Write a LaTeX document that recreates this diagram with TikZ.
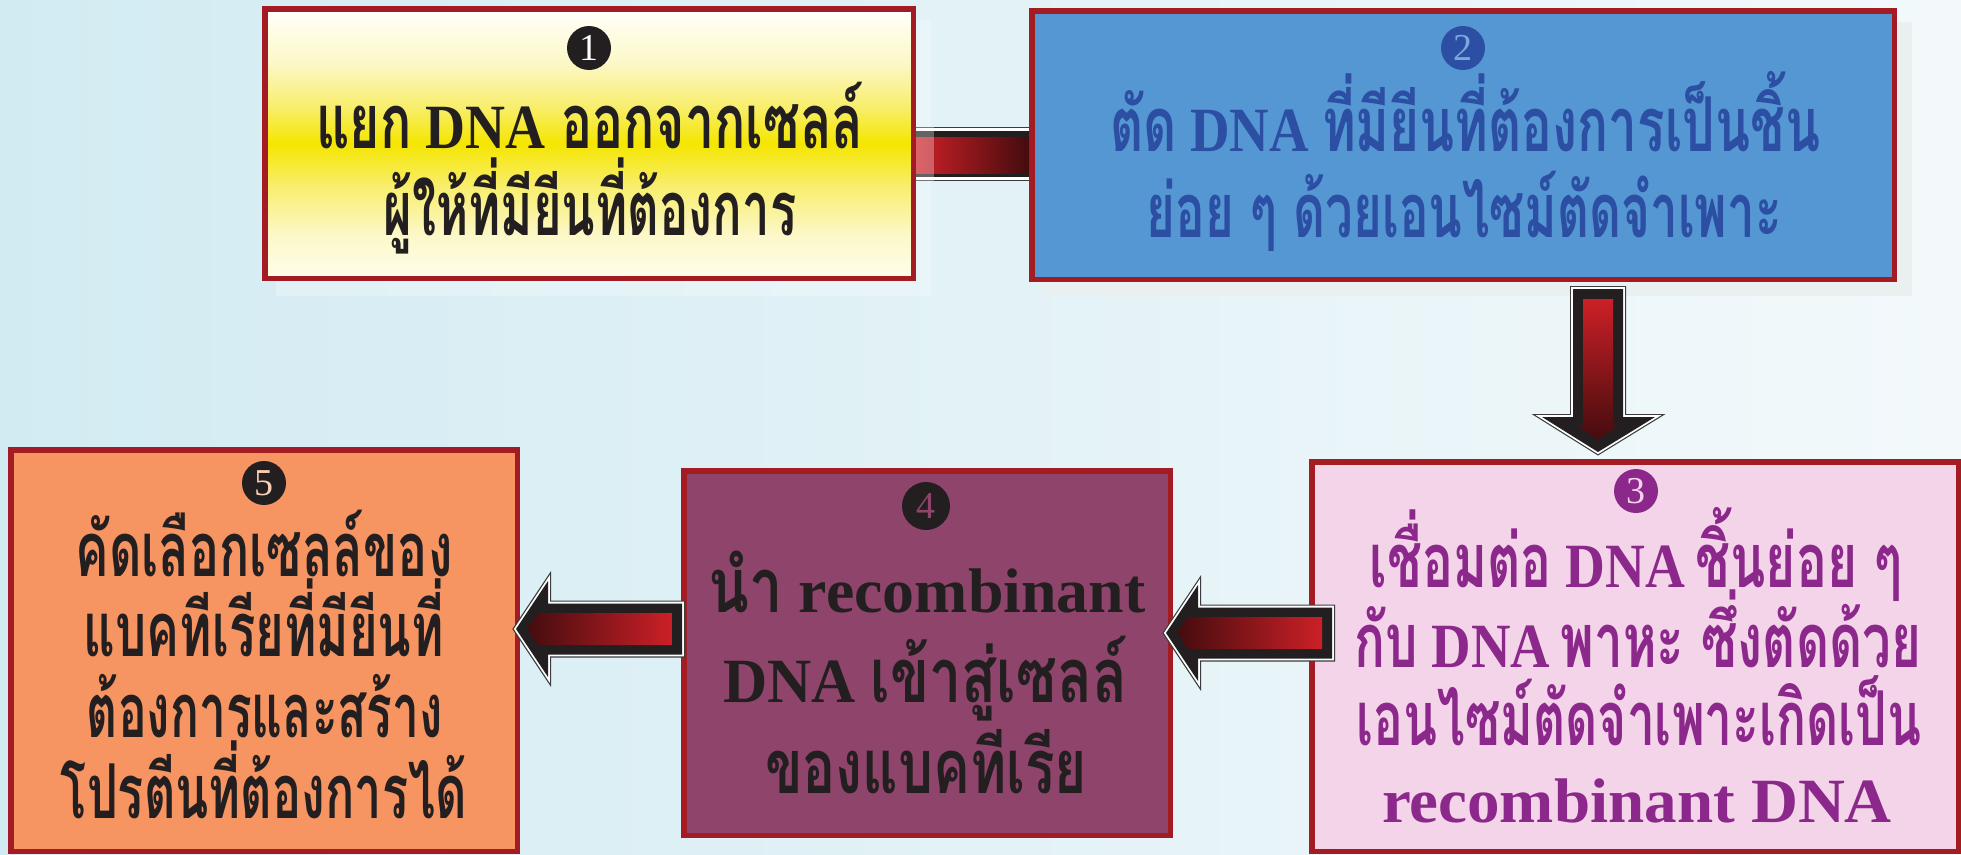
\documentclass[tikz,border=0pt]{standalone}
\usepackage{fontspec}
\setmainfont{Liberation Serif}
\newfontfamily\thai[Script=Thai,Scale=1.2,FakeStretch=0.78]{Loma}
\usetikzlibrary{calc}
\definecolor{bgL}{RGB}{210,235,242}
\definecolor{bgR}{RGB}{243,249,251}
\definecolor{shadowgray}{RGB}{234,239,240}
\definecolor{boxred}{RGB}{163,28,36}
\definecolor{ink}{RGB}{35,31,32}
\definecolor{yelc}{RGB}{245,230,0}
\definecolor{yel1}{RGB}{248,238,110}
\definecolor{yel2}{RGB}{252,248,200}
\definecolor{yel3}{RGB}{255,253,235}
\definecolor{b2fill}{RGB}{84,151,211}
\definecolor{b2txt}{RGB}{44,79,163}
\definecolor{c2num}{RGB}{120,170,225}
\definecolor{b3fill}{RGB}{243,212,232}
\definecolor{b3txt}{RGB}{140,40,140}
\definecolor{b4fill}{RGB}{143,69,107}
\definecolor{b5fill}{RGB}{246,148,98}
\definecolor{c5num}{RGB}{250,205,180}
\definecolor{arrred}{RGB}{204,32,39}
\definecolor{arrdark}{RGB}{68,12,14}
\definecolor{rimdark}{RGB}{60,60,62}
\pgfdeclareverticalshading{yelshade}{100bp}{color(0bp)=(white); color(25bp)=(yel3); color(33bp)=(yel2); color(42bp)=(yel1); color(50bp)=(yelc); color(57bp)=(yel1); color(65bp)=(yel2); color(72bp)=(yel3); color(75bp)=(white); color(100bp)=(white)}
\newcommand\fitln[2]{\resizebox{#1pt}{\height}{#2}}
\newcommand\leftfat[1]{%
  \begin{scope}[shift={(#1)}]
    \draw[line width=6, draw=rimdark, line join=miter] (0,0) -- (32,-48) -- (32,-25.5) -- (166,-25.5) -- (166,25.5) -- (32,25.5) -- (32,48) -- cycle;
    \draw[line width=3.6, draw=white, line join=miter] (0,0) -- (32,-48) -- (32,-25.5) -- (166,-25.5) -- (166,25.5) -- (32,25.5) -- (32,48) -- cycle;
    \fill[ink] (0,0) -- (32,-48) -- (32,-25.5) -- (166,-25.5) -- (166,25.5) -- (32,25.5) -- (32,48) -- cycle;
    \shade[left color=arrdark, right color=arrred] (11,0) -- (22,-16) -- (156,-16) -- (156,16) -- (22,16) -- cycle;
  \end{scope}}
\begin{document}
\begin{tikzpicture}[x=1pt,y=-1pt,
  box/.style={draw=boxred, line width=5.5, inner sep=0, shape=rectangle},
  num/.style={circle, minimum size=44, inner sep=0, font=\fontsize{38}{38}\selectfont},
  txtline/.style={anchor=base, inner sep=0, font=\fontsize{63}{63}\selectfont\bfseries}]
\useasboundingbox (0,0) rectangle (1961,854);
\shade[left color=bgL, right color=bgR] (0,0) rectangle (1961,854);
\fill[shadowgray] (1043,22) rectangle (1912,296);
\fill[white, opacity=.25] (276,20) rectangle (931,296);

% boxes
\node[box, shade, shading=yelshade, minimum width=648.5, minimum height=269.5] (b1) at (589,143.5) {};
\node[box, fill=b2fill, minimum width=862.5, minimum height=268.5] (b2) at (1463,145) {};
\node[box, fill=b3fill, minimum width=646.5, minimum height=389.5] (b3) at (1635,656.5) {};
\node[box, fill=b4fill, minimum width=486.5, minimum height=364.5] (b4) at (927,653) {};
\node[box, fill=b5fill, minimum width=506.5, minimum height=401.5] (b5) at (264,650.5) {};

% arrow 1 -> 2
\coordinate (a12s) at ($(b1.east)+(0,10.5)$);
\coordinate (a12e) at (b2.west |- a12s);
\fill[ink] ($(a12s)+(0,-27)$) rectangle ($(a12e)+(0,27)$);
\draw[rimdark, line width=1] ($(a12s)+(0,-26.5)$) -- ($(a12e)+(0,-26.5)$);
\draw[rimdark, line width=1] ($(a12s)+(0,26.5)$) -- ($(a12e)+(0,26.5)$);
\draw[white, line width=2.5] ($(a12s)+(0,-24.5)$) -- ($(a12e)+(0,-24.5)$);
\draw[white, line width=2.5] ($(a12s)+(0,24.5)$) -- ($(a12e)+(0,24.5)$);
\shade[left color=arrred, right color=arrdark] ($(a12s)+(0,-17)$) rectangle ($(a12e)+(0,19)$);
\fill[white, opacity=.3] ($(a12s)+(0,-27)$) rectangle ($(a12s)+(18,27)$);

% arrow 2 -> 3
\coordinate (a23) at ($(b3.north)+(-37,-7)$);
\begin{scope}[shift={(a23)}]
  \draw[line width=6, draw=rimdark, line join=miter] (0,0) -- (-56,-35) -- (-25,-35) -- (-25,-163) -- (25,-163) -- (25,-35) -- (57,-35) -- cycle;
  \draw[line width=3.6, draw=white, line join=miter] (0,0) -- (-56,-35) -- (-25,-35) -- (-25,-163) -- (25,-163) -- (25,-35) -- (57,-35) -- cycle;
  \fill[ink] (0,0) -- (-56,-35) -- (-25,-35) -- (-25,-163) -- (25,-163) -- (25,-35) -- (57,-35) -- cycle;
  \shade[top color=arrred, bottom color=arrdark] (0,-12) -- (-21,-27) -- (-15,-27) -- (-15,-153) -- (15,-153) -- (15,-27) -- (21,-27) -- cycle;
\end{scope}

% arrows 3 -> 4 and 4 -> 5
\coordinate (a34) at ($(b4.east)+(-7,-20)$);
\leftfat{a34}
\coordinate (a45) at ($(b5.east)+(-4,-21.5)$);
\leftfat{a45}

% number badges
\node[num, fill=ink, text=white] (n1) at (589,48) {1};
\node[num, fill=b2txt, text=c2num] (n2) at (1463,48) {2};
\node[num, fill=b3txt, text=b3fill] (n3) at (1636,491) {3};
\node[num, fill=ink, text=b4fill, minimum size=48] (n4) at (926,506) {4};
\node[num, fill=ink, text=c5num] (n5) at (264,483) {5};

% texts
\node[txtline, text=ink] (t11) at (590,148) {\fitln{547}{{\thai แยก} DNA\hspace{18pt}{\thai ออกจากเซลล์}}};
\node[txtline, text=ink] (t12) at (590,235) {\fitln{413}{\thai ผู้ให้ที่มียีนที่ต้องการ}};

\node[txtline, text=b2txt] (t21) at (1465,151) {\fitln{710}{{\thai ตัด} DNA\hspace{15pt}{\thai ที่มียีนที่ต้องการเป็นชิ้น}}};
\node[txtline, text=b2txt] (t22) at (1464,237) {\fitln{635}{\thai ย่อย ๆ ด้วยเอนไซม์ตัดจำเพาะ}};

\node[txtline, text=b3txt] (t31) at (1636,587) {\fitln{533}{{\thai เชื่อมต่อ} DNA\hspace{12pt}{\thai ชิ้นย่อย ๆ}}};
\node[txtline, text=b3txt] (t32) at (1638,667) {\fitln{567}{{\thai กับ} DNA\hspace{12pt}{\thai พาหะ ซึ่งตัดด้วย}}};
\node[txtline, text=b3txt] (t33) at (1639,745) {\fitln{565}{\thai เอนไซม์ตัดจำเพาะเกิดเป็น}};
\node[txtline, text=b3txt] (t34) at (1637,822) {\fitln{510}{recombinant DNA}};

\node[txtline, text=ink] (t41) at (927,612) {\fitln{437}{{\thai นำ} recombinant}};
\node[txtline, text=ink] (t42) at (925,702) {\fitln{404}{DNA {\thai เข้าสู่เซลล์}}};
\node[txtline, text=ink] (t43) at (926,793) {\fitln{322}{\thai ของแบคทีเรีย}};

\node[txtline, text=ink] (t51) at (264,576) {\fitln{377}{\thai คัดเลือกเซลล์ของ}};
\node[txtline, text=ink] (t52) at (264,656) {\fitln{360}{\thai แบคทีเรียที่มียีนที่}};
\node[txtline, text=ink] (t53) at (265,737) {\fitln{356}{\thai ต้องการและสร้าง}};
\node[txtline, text=ink] (t54) at (264,818) {\fitln{406}{\thai โปรตีนที่ต้องการได้}};
\end{tikzpicture}
\end{document}
